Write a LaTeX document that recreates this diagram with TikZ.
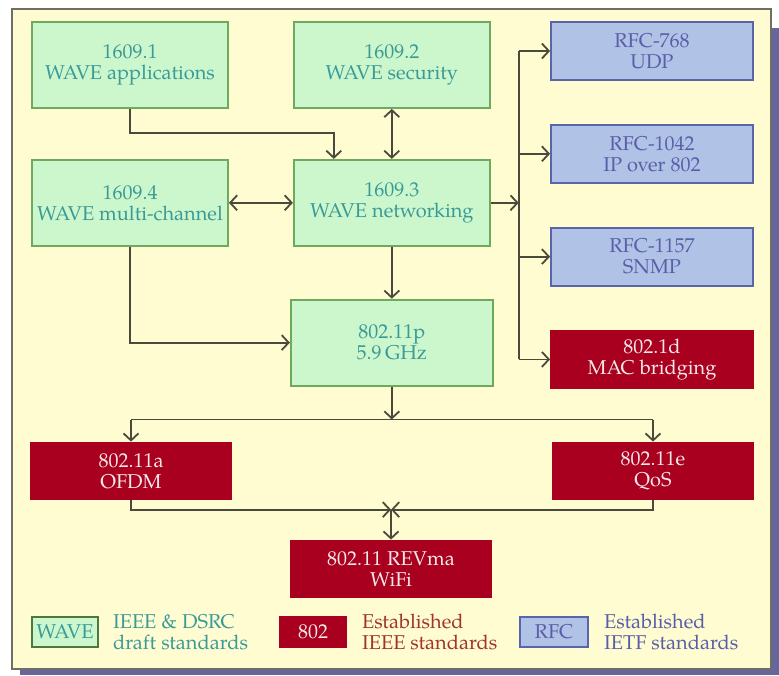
\documentclass[tikz,border=0pt]{standalone}
\usepackage{fontspec}
\setmainfont{TeX Gyre Pagella}
\usetikzlibrary{arrows.meta, positioning, calc}

\definecolor{paper}{HTML}{FFFCD2}
\definecolor{framegray}{HTML}{6E6E66}
\definecolor{shadowcol}{HTML}{66669A}
\definecolor{wavefill}{HTML}{CCF7CC}
\definecolor{wavedraw}{HTML}{6DAA5E}
\definecolor{wavetext}{HTML}{3A9A98}
\definecolor{ieeefill}{HTML}{A8001E}
\definecolor{ieeetext}{HTML}{F6E8E8}
\definecolor{ieeelegend}{HTML}{A0342E}
\definecolor{rfcfill}{HTML}{B0C2E6}
\definecolor{rfcdraw}{HTML}{5A64A8}
\definecolor{rfctext}{HTML}{5A5EA8}
\definecolor{linecol}{HTML}{4A4A3C}

\begin{document}
\begin{tikzpicture}[
    x=0.5pt, y=-0.5pt,
    font=\fontsize{10}{10.5}\selectfont,
    % Styles
    base/.style = {rectangle, line width=0.9pt, minimum height=43pt, align=center, inner sep=2pt},
    wave/.style = {base, fill=wavefill, draw=wavedraw, text=wavetext, minimum width=98pt},
    rfc/.style = {base, fill=rfcfill, draw=rfcdraw, text=rfctext, minimum width=101pt, minimum height=29pt},
    ieee/.style = {base, fill=ieeefill, draw=ieeefill, text=ieeetext, minimum width=100pt, minimum height=28.5pt},
    key/.style = {base, minimum width=33pt, minimum height=15pt, inner sep=1pt},
    keytext/.style = {anchor=west, align=left},
    arrow/.style = {-{Straight Barb[length=3.5pt,width=7.5pt]}, line width=0.9pt, draw=linecol},
    link/.style = {line width=0.9pt, draw=linecol},
    both/.style = {arrow, {Straight Barb[length=3.5pt,width=7.5pt]}-{Straight Barb[length=3.5pt,width=7.5pt]}}
]
\useasboundingbox (0,0) rectangle (779,675);

% --- FRAME ---
\fill[shadowcol] (20,28) rectangle (779,675);
\draw[framegray, fill=paper, line width=1pt] (12,9) rectangle (771,669);

% --- 1. WAVE DRAFT STANDARDS ---
\node[wave] (app) at (130,65) {1609.1\\WAVE applications};
\node[wave, right=32pt of app] (sec) {1609.2\\WAVE security};
\node[wave, below=25pt of app] (multi) {1609.4\\WAVE multi-channel};
\node[wave, below=25pt of sec] (net) {1609.3\\WAVE networking};
\node[wave, minimum width=101pt, below=26pt of net] (phy) {802.11p\\5.9\,GHz};

\draw[arrow] (app.south) |- ([xshift=-29pt,yshift=13pt]net.north) -- ([xshift=-29pt]net.north);
\draw[both] (sec) -- (net);
\draw[both] (multi) -- (net);
\draw[arrow] (net) -- (phy);
\draw[arrow] (multi.south) |- (phy.west);

% --- 2. IETF / BRIDGING ---
\node[rfc] (udp) at (652,51) {RFC-768\\UDP};
\node[rfc, below=21.5pt of udp] (ippkt) {RFC-1042\\IP over 802};
\node[rfc, below=21.5pt of ippkt] (snmp) {RFC-1157\\SNMP};
\node[ieee, minimum width=101pt, minimum height=29pt, below=21.5pt of snmp] (bridge) {802.1d\\MAC bridging};

\coordinate (bus) at ([xshift=14pt]net.east);
\draw[arrow] (net.east) -- (bus);
\draw[link] (bus |- udp) -- (bus |- bridge);
\foreach \n in {udp, ippkt, snmp, bridge}
    \draw[arrow] (bus |- \n) -- (\n);

% --- 3. 802.11 BASE ---
\node[ieee] (ofdm) at (131,471) {802.11a\\OFDM};
\node[ieee] (qos) at (653,471) {802.11e\\QoS};
\node[ieee] (wifi) at (391,569) {802.11 REVma\\WiFi};

\coordinate (split) at ([yshift=-16.5pt]phy.south);
\draw[arrow] (phy) -- (split);
\draw[link] (ofdm |- split) -- (qos |- split);
\draw[arrow] (ofdm |- split) -- (ofdm);
\draw[arrow] (qos |- split) -- (qos);

\coordinate (join) at ([yshift=15pt]wifi.north);
\draw[arrow] (ofdm.south) |- (join);
\draw[arrow] (qos.south) |- (join);
\draw[arrow] (join) -- (wifi);

% --- 4. LEGEND ---
\node[key, fill=wavefill, draw=wavedraw!70!black, text=wavetext] (keywave) at (65,632) {WAVE};
\node[keytext, text=wavetext] (keywavetxt) at (106,632) {IEEE \& DSRC\\draft standards};
\node[key, fill=ieeefill, draw=ieeefill, text=ieeetext] (keyieee) at (313,632) {802};
\node[keytext, text=ieeelegend] (keyieeetxt) at (355,632) {Established\\IEEE standards};
\node[key, fill=rfcfill, draw=rfcdraw, text=rfctext, minimum width=34pt] (keyrfc) at (554,632) {RFC};
\node[keytext, text=rfctext] (keyrfctxt) at (597,632) {Established\\IETF standards};

\end{tikzpicture}
\end{document}
